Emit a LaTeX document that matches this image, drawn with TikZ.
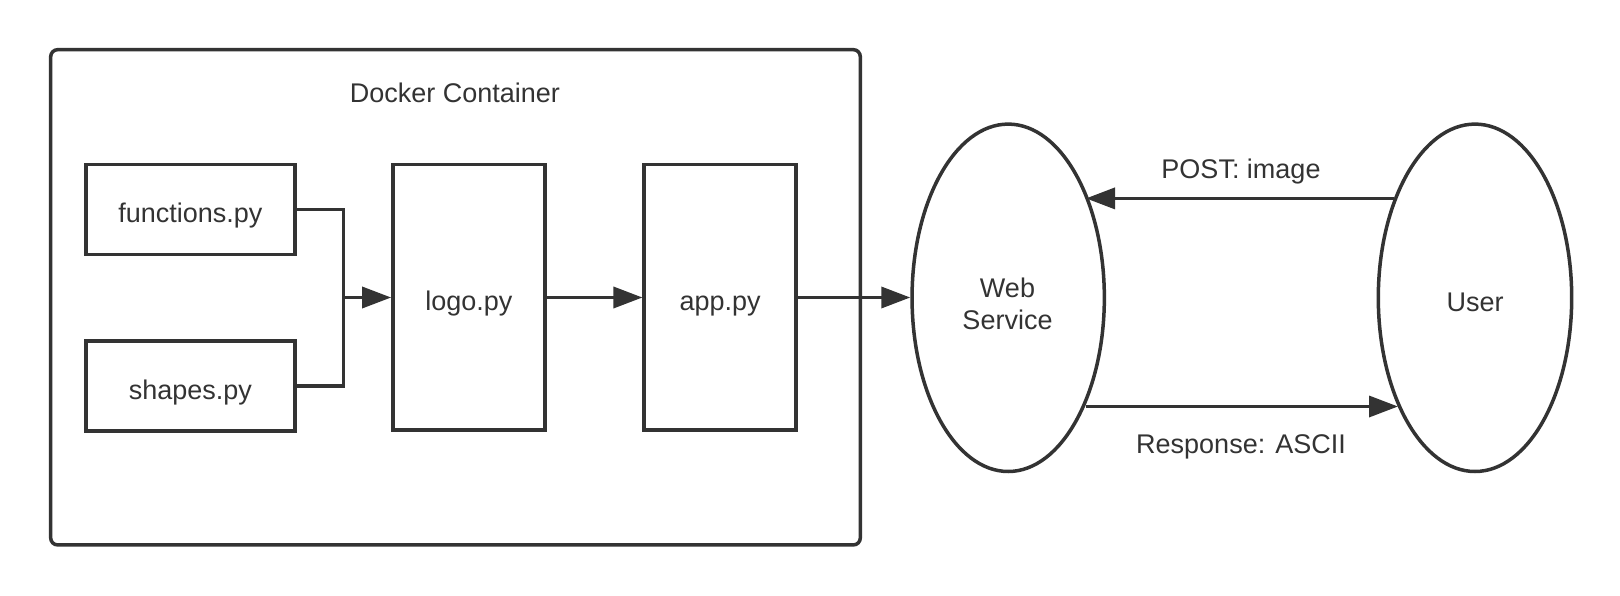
\documentclass[tikz,border=0pt]{standalone}
\usepackage{fontspec}
\setmainfont{Liberation Sans}
\usetikzlibrary{arrows.meta,shapes.geometric}
\definecolor{ink}{HTML}{333333}
\begin{document}
\begin{tikzpicture}[x=1pt,y=-1pt,
  lbl/.style={font=\fontsize{27}{33}\selectfont, text=ink, text height=24pt, text depth=0pt, inner sep=0pt},
  box/.style={lbl, text height=27pt, draw=ink, line width=3.5pt, rectangle},
  oval/.style={lbl, text height=27pt, draw=ink, line width=3.5pt, ellipse},
  conn/.style={draw=ink, line width=3.5pt, -{Triangle[length=29pt,width=21pt]}},
  wire/.style={draw=ink, line width=3.5pt}]
\useasboundingbox (0,0) rectangle (1620,596);
% container
\node[box, rounded corners=7pt, minimum width=809.6pt, minimum height=495.3pt] (cont) at (455.5,297.3) {};
\node[lbl] (conttitle) at (455,90.5) {Docker Container};
\node[box, minimum width=209pt, minimum height=90pt] (func) at (190.3,209.4) {functions.py};
\node[box, minimum width=209pt, minimum height=90pt] (shapes) at (190.3,386) {shapes.py};
\node[box, minimum width=152pt, minimum height=265.7pt] (logo) at (468.9,297.3) {logo.py};
\node[box, minimum width=152pt, minimum height=265.7pt] (app) at (720.2,297.3) {app.py};
\node[oval, minimum width=192.3pt, minimum height=347.4pt] (web) at (1008.2,297.8) {};
\node[lbl] (webA) at (1007.5,285.3) {Web};
\node[lbl] (webB) at (1007.5,317) {Service};
\node[oval, minimum width=193.4pt, minimum height=347.4pt] (user) at (1475,297.8) {User};
\coordinate (join) at (343.3,297.5);
\draw[wire] (func.east) -| (join);
\draw[wire] (shapes.east) -| (join);
\draw[conn] (join) -- (logo.west |- join);
\draw[conn] (logo.east |- join) -- (app.west |- join);
\draw[conn] (app.east |- join) -- (web.west |- join);
\coordinate (postS) at (1394,198.4);
\coordinate (postE) at (1086,198.4);
\draw[conn] (postS) -- (postE);
\node[lbl] (postlbl) at (1241,166.3) {POST: image};
\coordinate (respS) at (1086,406.5);
\coordinate (respE) at (1398,406.5);
\draw[conn] (respS) -- (respE);
\node[lbl] (resplbl) at (1241,441) {Response: ASCII};
\end{tikzpicture}
\end{document}
